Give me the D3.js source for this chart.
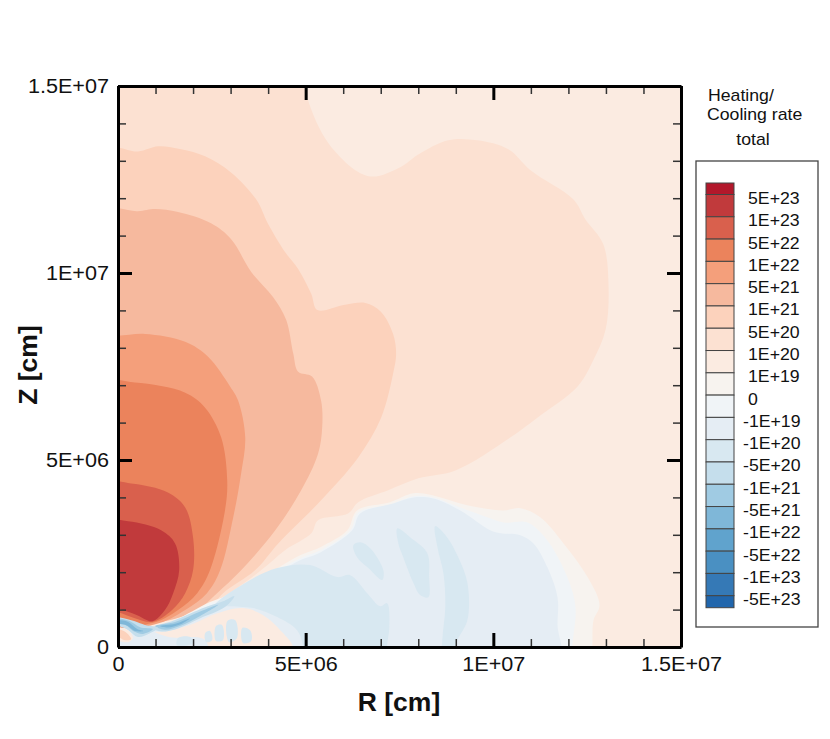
<!DOCTYPE html>
<html>
<head>
<meta charset="utf-8">
<script src="https://cdnjs.cloudflare.com/ajax/libs/d3/7.8.5/d3.min.js"></script>
<style>
  html, body { margin: 0; padding: 0; background: #fff; }
  text { font-family: "Liberation Sans", Arial, sans-serif; fill: #111; }
</style>
</head>
<body>
<div id="chart"></div>
<script>
// all contour points are [R, Z] in units of 1E6 cm
var axisTicks = [0, 5, 10, 15];
var axisLabels = ["0", "5E+06", "1E+07", "1.5E+07"];
var minorTicks = [1, 2, 3, 4, 6, 7, 8, 9, 11, 12, 13, 14];

var legendLabels = ["5E+23", "1E+23", "5E+22", "1E+22", "5E+21", "1E+21", "5E+20", "1E+20", "1E+19", "0",
  "-1E+19", "-1E+20", "-5E+20", "-1E+21", "-5E+21", "-1E+22", "-5E+22", "-1E+23", "-5E+23"];
var levelColors = ["#b2182b", "#c13a3c", "#d9604d", "#eb835c", "#f49f7b", "#f6b99e", "#fcd2bc", "#fce1d2", "#fbebe1",
  "#f7f3ef", "#f0f4f7", "#e5edf4", "#d8e8f1", "#c5deec", "#a0cbe3", "#7fb7d8", "#60a3cd", "#4a90c2", "#3579b6", "#2166ac"];

var heat7 = [[4.93,15.39],[5.04,14.69],[5.65,13.41],[6.67,12.59],[7.52,12.83],[8,13.17],[8.8,13.55],[9.57,13.55],[10.4,13.31],
  [10.99,12.75],[12.13,11.97],[12.45,11.44],[12.93,10.77],[13.07,9.63],[12.99,8.48],[12.67,7.68],[12.24,6.96],[11.25,6.19],
  [10.45,5.6],[8.99,4.72],[8,4.51],[7.2,4.19],[6.4,3.87],[6.13,3.57],[5.33,3.39],[5.15,3.04],[4.45,2.59],[3.81,2.05],
  [2.96,1.44],[2.27,1.07],[1.39,.72],[.59,.53],[-.48,.53],[-.48,15.65]];
var heat6 = [[-.48,13.3],[.53,13.25],[1.07,13.39],[1.68,13.31],[2.32,13.12],[3.01,12.69],[3.68,11.97],[4,11.31],[4.45,10.56],
  [4.8,10.11],[5.15,9.44],[5.31,9.01],[6.05,9.15],[6.59,9.2],[7.01,8.96],[7.33,8.37],[7.41,7.84],[7.33,7.31],[7.01,6.13],
  [6.4,5.07],[5.33,3.84],[4.27,2.77],[3.65,2.05],[2.8,1.44],[2.37,.99],[1.25,.72],[.59,.56],[-.48,.56]];
var heat5 = [[-.48,11.63],[.53,11.65],[.99,11.71],[1.6,11.63],[2.48,11.33],[3.01,10.91],[3.55,10.03],[4.13,9.36],[4.48,8.75],
  [4.67,7.84],[4.8,7.36],[5.17,7.23],[5.41,6.59],[5.44,5.87],[5.33,5.17],[4.88,4.19],[4.19,3.12],[3.28,2.05],[2.64,1.44],
  [2.11,.99],[1.12,.67],[-.48,.67]];
var heat4 = [[-.48,8.32],[0,8.32],[.72,8.37],[1.79,8.16],[2.4,7.76],[2.99,6.96],[3.2,6.59],[3.39,5.6],[3.28,4.64],[3.07,3.47],
  [2.72,2.05],[2.37,1.44],[1.79,.99],[.99,.61],[-.48,.61]];
var heat3 = [[-.48,7.04],[.45,7.07],[1.79,6.8],[2.32,6.4],[2.75,5.6],[2.91,4.45],[2.85,3.65],[2.45,2.05],[2.11,1.44],[1.6,.99],
  [.91,.64],[-.48,.64]];
var heat2 = [[-.48,4.37],[.35,4.37],[1.33,4.13],[1.79,3.73],[2,2.93],[2,2.05],[1.79,1.44],[1.44,.99],[.91,.67],[.45,.77],
  [0,.93],[-.48,.99]];
var heat1 = [[-.48,3.36],[.27,3.36],[1.15,3.12],[1.52,2.77],[1.63,2.05],[1.47,1.44],[1.25,.99],[.91,.69],[.51,.85],[.05,1.01],
  [-.48,1.07]];

var cool9 = [[12.64,-.48],[12.64,.05],[12.67,.72],[12.83,1.12],[12.51,1.87],[11.87,2.77],[11.25,3.47],[10.72,3.71],[10.27,3.65],
  [9.73,3.71],[9.12,3.84],[8.4,4.05],[7.87,4.11],[7.25,3.87],[6.37,3.65],[6.11,3.12],[5.39,2.67],[4.85,2.45],[3.17,1.47],
  [2.45,1.2],[1.52,.72],[.85,.51],[-.48,.4],[-.48,-.48]];
var cool10 = [[12.11,-.48],[12.11,.05],[12.19,1.07],[11.97,1.87],[11.44,2.85],[10.91,3.33],[10.27,3.33],[9.84,3.47],[9.12,3.73],
  [8.4,4],[7.87,4.03],[7.25,3.81],[6.4,3.6],[6.19,3.12],[5.39,2.59],[4.85,2.37],[3.17,1.42],[2.45,1.16],[1.52,.69],[.85,.48],
  [-.48,.37],[-.48,-.48]];
var cool11 = [[11.71,-.48],[11.71,.6],[11.71,1.33],[11.44,2.13],[11.07,2.77],[10.72,2.99],[10.19,3.04],[9.92,3.12],[9.12,3.65],
  [8.4,3.97],[7.87,4],[7.33,3.84],[6.45,3.57],[6.24,3.12],[5.39,2.53],[4.85,2.32],[3.17,1.37],[2.51,1.12],[1.52,.67],[.85,.45],
  [-.48,.35],[-.48,-.48]];
var cool12 = [[2.59,1.12],[3.33,1.68],[4.24,2.11],[5.12,2.19],[5.84,1.87],[6.19,1.92],[6.64,1.44],[6.99,1.09],[7.17,1.17],
  [7.23,.53],[7.17,.05],[7.17,-.48],[4.93,-.48],[4.93,.03],[4.77,.45],[4.24,.8],[3.6,1.04],[2.91,1.09]];
var island1 = [[6.27,2.72],[6.45,2.8],[6.72,2.64],[7.07,2.05],[7.04,1.79],[6.67,2.11],[6.37,2.4]];
var island2 = [[7.44,3.17],[7.79,2.93],[8.24,2.51],[8.29,1.87],[8.27,1.33],[8.05,1.39],[7.87,1.71],[7.6,2.4],[7.47,2.77]];
var island3 = [[8.45,3.23],[8.77,2.93],[9.04,2.45],[9.31,1.71],[9.31,.72],[9.04,.19],[8.99,.05],[8.99,-.48],[8.64,-.48],
  [8.64,.19],[8.72,1.07],[8.67,1.97],[8.51,2.67]];

var plume = [[.99,.4],[1.31,.42],[2,.62],[2.64,.9],[3.33,1.04],[3.87,.85],[4.37,.4],[4.67,0],[4.67,-.48],[2.6,-.48],[2.3,.2],[1.39,.26]];
var spot1 = [[2.32,.37],[2.45,.43],[2.51,.19],[2.35,.13]];
var spot2 = [[2.61,.56],[2.77,.59],[2.8,.19],[2.61,.16]];
var spot3 = [[2.91,.69],[3.12,.72],[3.17,.24],[2.96,.13]];
var spot4 = [[3.31,.51],[3.52,.45],[3.55,.16],[3.33,.11]];
var spot5 = [[1.6,.24],[1.92,.27],[2,.11],[1.57,.05]];

var band13 = [[.93,.51],[1.52,.72],[2.32,1.06],[2.8,1.22],[3.1,1.36],[2.85,1.07],[2.19,.77],[1.52,.47],[1.12,.42]];
var band14 = [[.99,.56],[1.52,.67],[2.19,.95],[2.67,1.13],[2.19,.83],[1.65,.56],[1.25,.46]];
var band15 = [[1.12,.56],[1.52,.62],[1.92,.77],[1.65,.6],[1.33,.52]];
var leftBand13 = [[-.48,.81],[.05,.79],[.45,.69],[.72,.59],[1.07,.51],[.85,.37],[.53,.27],[.27,.45],[0,.56],[-.48,.56]];
var leftBand14 = [[-.48,.77],[0,.77],[.32,.69],[.59,.53],[.93,.48],[.67,.35],[.4,.43],[.19,.59],[-.48,.64]];
var leftBand15 = [[-.48,.72],[0,.72],[.27,.67],[.51,.48],[.67,.43],[.45,.43],[.21,.59],[-.48,.67]];
var blobOuter = [[-.48,.56],[.05,.53],[.27,.45],[.4,.24],[.27,.13],[0,.16],[-.48,.16]];
var blobInner = [[-.48,.48],[.05,.47],[.24,.37],[.35,.21],[.16,.19],[0,.27],[-.48,.27]];

// painter's order, level is an index into levelColors
var layers = [
  [7, heat7], [6, heat6], [5, heat5], [4, heat4], [3, heat3], [2, heat2], [1, heat1],
  [9, cool9], [10, cool10], [11, cool11], [12, cool12], [12, island1], [12, island2], [12, island3],
  [8, plume], [12, spot1], [12, spot2], [12, spot3], [12, spot4], [12, spot5],
  [13, band13], [14, band14], [15, band15], [13, leftBand13], [14, leftBand14], [15, leftBand15],
  [8, blobOuter], [6, blobInner]
];

var svg = d3.select("#chart").append("svg")
  .attr("width", 830)
  .attr("height", 739)
  .style("display", "block");

var x = d3.scaleLinear().domain([0, 15]).range([118, 681]);
var y = d3.scaleLinear().domain([0, 15]).range([647, 86]);

svg.append("clipPath").attr("id", "plotClip").append("rect")
  .attr("x", 118).attr("y", 86).attr("width", 563).attr("height", 561);

var plot = svg.append("g").attr("clip-path", "url(#plotClip)");

plot.append("rect")
  .attr("x", 118).attr("y", 86).attr("width", 563).attr("height", 561)
  .attr("fill", levelColors[8]);

var contour = d3.line()
  .x(function(d) { return x(d[0]); })
  .y(function(d) { return y(d[1]); })
  .curve(d3.curveCatmullRomClosed.alpha(0.5));

plot.selectAll("path.level")
  .data(layers)
  .enter().append("path")
  .attr("class", "level")
  .attr("d", function(d) { return contour(d[1]); })
  .attr("fill", function(d) { return levelColors[d[0]]; });

// the reference font runs wider than Liberation Sans
function stretch(sel, k) {
  sel.each(function() {
    var w = this.getComputedTextLength();
    if (w > 0) d3.select(this).attr("textLength", w * k).attr("lengthAdjust", "spacingAndGlyphs");
  });
}

function styleAxis(g) {
  g.select(".domain").attr("stroke", "#000").attr("stroke-width", 3);
  g.selectAll(".tick line").attr("stroke", "#000").attr("stroke-width", 3);
  g.selectAll(".tick text").style("font-size", "20px").attr("fill", "#111").call(stretch, 1.08);
}

function fmt(d) { return axisLabels[axisTicks.indexOf(d)]; }

function addMinor(axisGen, transform) {
  var g = svg.append("g")
    .attr("transform", transform)
    .call(axisGen.tickValues(minorTicks).tickSize(-8).tickFormat(""));
  g.select(".domain").remove();
  g.selectAll(".tick line").attr("stroke", "#333").attr("stroke-width", 1.5);
}

addMinor(d3.axisBottom(x), "translate(0,647)");
addMinor(d3.axisTop(x), "translate(0,86)");
addMinor(d3.axisLeft(y), "translate(118,0)");
addMinor(d3.axisRight(y), "translate(681,0)");

svg.append("g").attr("transform", "translate(0,647)")
  .call(d3.axisBottom(x).tickValues(axisTicks).tickSize(-14).tickSizeOuter(0).tickPadding(10).tickFormat(fmt))
  .call(styleAxis);
svg.append("g").attr("transform", "translate(118,0)")
  .call(d3.axisLeft(y).tickValues(axisTicks).tickSize(-14).tickSizeOuter(0).tickPadding(9).tickFormat(fmt))
  .call(styleAxis);
svg.append("g").attr("transform", "translate(0,86)")
  .call(d3.axisTop(x).tickValues(axisTicks).tickSize(-14).tickSizeOuter(0).tickFormat(""))
  .call(styleAxis);
svg.append("g").attr("transform", "translate(681,0)")
  .call(d3.axisRight(y).tickValues(axisTicks).tickSize(-14).tickSizeOuter(0).tickFormat(""))
  .call(styleAxis);

svg.append("text")
  .attr("x", 399).attr("y", 711)
  .attr("text-anchor", "middle")
  .style("font-size", "26.5px").style("font-weight", "bold")
  .text("R [cm]");
svg.append("text")
  .attr("transform", "translate(37,365) rotate(-90)")
  .attr("text-anchor", "middle")
  .style("font-size", "26.5px").style("font-weight", "bold")
  .text("Z [cm]");

// legend
var legendTitle = svg.append("g").style("font-size", "17px");
legendTitle.append("text").attr("x", 708).attr("y", 101).text("Heating/");
legendTitle.append("text").attr("x", 707).attr("y", 120).text("Cooling rate");
legendTitle.append("text").attr("x", 753).attr("y", 145).attr("text-anchor", "middle").text("total");
legendTitle.selectAll("text").call(stretch, 1.04);

svg.append("rect")
  .attr("x", 696).attr("y", 161).attr("width", 122).attr("height", 466)
  .attr("fill", "#fff").attr("stroke", "#444").attr("stroke-width", 1.3);

// band edges: each label sits at the edge between two swatches
var legendY = d3.scaleLinear().domain([0, legendLabels.length - 1]).range([194.5, 595.7]);

svg.selectAll("rect.swatch")
  .data(levelColors)
  .enter().append("rect")
  .attr("class", "swatch")
  .attr("x", 706)
  .attr("width", 28)
  .attr("y", function(d, i) { return i === 0 ? 183 : legendY(i - 1); })
  .attr("height", function(d, i) {
    if (i === 0) return legendY(0) - 183;
    if (i === levelColors.length - 1) return 607.7 - legendY(i - 1);
    return legendY(i) - legendY(i - 1);
  })
  .attr("fill", function(d) { return d; })
  .attr("stroke", "#444")
  .attr("stroke-width", 1);

svg.selectAll("text.legendLabel")
  .data(legendLabels)
  .enter().append("text")
  .attr("class", "legendLabel")
  .attr("x", function(d) { return d.charAt(0) === "-" ? 743 : 748; })
  .attr("y", function(d, i) { return legendY(i) + 9.5; })
  .style("font-size", "17px")
  .text(function(d) { return d; })
  .call(stretch, 1.04);
</script>
</body>
</html>
